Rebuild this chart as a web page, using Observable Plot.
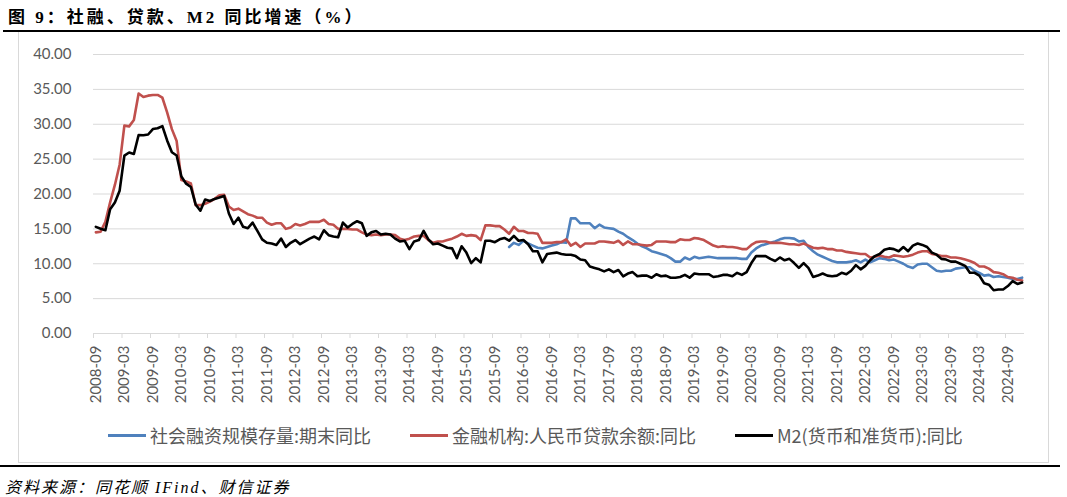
<!DOCTYPE html>
<html>
<head>
<meta charset="utf-8">
<script src="https://cdn.jsdelivr.net/npm/d3@7"></script>
<script src="https://cdn.jsdelivr.net/npm/@observablehq/plot@0.6"></script>
<style>
  html, body { margin: 0; padding: 0; background: #fff; }
  body { width: 1067px; height: 497px; position: relative; overflow: hidden; }
  .abs { position: absolute; }
  #title { left: 8px; top: 3px; font-family: "Liberation Serif", "Noto Sans CJK SC", serif; font-weight: bold; font-size: 17px; letter-spacing: 3px; color: #000; white-space: nowrap; }
  #rule1 { left: 3px; top: 30px; width: 1057px; height: 2px; background: #000; }
  #box { left: 18px; top: 32px; width: 1029px; height: 430px; border: 1px solid #d9d9d9; border-top: none; }
  #chart { left: 0; top: 0; }
  .leg { top: 424px; height: 22px; display: flex; align-items: center; font-family: "Noto Sans CJK SC", sans-serif; font-size: 18px; color: #595959; white-space: nowrap; }
  .sw { display: inline-block; width: 38px; height: 3px; margin-right: 4px; }
  #rule2 { left: 0; top: 465px; width: 1060px; height: 2px; background: #000; }
  #source { left: 5px; top: 474px; font-family: "Liberation Serif", "Noto Sans CJK SC", serif; font-style: italic; font-size: 16px; letter-spacing: 2px; color: #000; white-space: nowrap; }
</style>
</head>
<body>
<div id="title" class="abs">图 9：社融、贷款、M2 同比增速（%）</div>
<div id="rule1" class="abs"></div>
<div id="box" class="abs"></div>
<div id="chart" class="abs"></div>
<div id="legend"></div>
<div id="rule2" class="abs"></div>
<div id="source" class="abs">资料来源：同花顺 IFind、财信证券</div>
<script>
// ---------- data ----------
const firstMonth = "2008-09";
const monthCount = 196; // 2008-09 .. 2024-12
const tsfFirstMonth = "2015-12";

const seriesNames = ["社会融资规模存量:期末同比", "金融机构:人民币贷款余额:同比", "M2(货币和准货币):同比"];
const seriesColors = ["#4F81BD", "#C0504D", "#000000"];

// M2 同比 (%), 2008-09 .. 2024-12
const m2 = [
  15.29, 15.02, 14.80, 17.82,
  18.79, 20.48, 25.51, 25.95, 25.74, 28.46, 28.42, 28.53, 29.31, 29.42, 29.74, 27.68,
  25.98, 25.52, 22.50, 21.48, 21.00, 18.50, 17.60, 19.20, 19.00, 19.30, 19.50, 19.72,
  17.20, 15.70, 16.60, 15.30, 15.10, 15.90, 14.70, 13.50, 13.00, 12.90, 12.70, 13.60,
  12.40, 13.00, 13.40, 12.80, 13.20, 13.60, 13.90, 13.50, 14.80, 14.10, 13.90, 13.80,
  15.90, 15.20, 15.70, 16.10, 15.80, 14.00, 14.50, 14.70, 14.20, 14.30, 14.20, 13.60,
  13.20, 13.30, 12.10, 13.20, 13.40, 14.70, 13.50, 12.80, 12.90, 12.60, 12.30, 12.20,
  10.80, 12.50, 11.60, 10.10, 10.80, 10.20, 13.30, 13.30, 13.10, 13.50, 13.70, 13.30,
  14.00, 13.30, 13.40, 12.80, 11.80, 11.80, 10.20, 11.40, 11.50, 11.60, 11.40, 11.30,
  11.30, 11.10, 10.60, 10.50, 9.60, 9.40, 9.20, 8.90, 9.20, 8.80, 9.10, 8.20,
  8.60, 8.80, 8.20, 8.30, 8.30, 8.00, 8.50, 8.20, 8.30, 8.00, 8.00, 8.10,
  8.40, 8.00, 8.60, 8.50, 8.50, 8.50, 8.10, 8.20, 8.40, 8.40, 8.20, 8.70,
  8.40, 8.80, 10.10, 11.10, 11.10, 11.10, 10.70, 10.40, 10.90, 10.50, 10.70, 10.10,
  9.40, 10.10, 9.40, 8.10, 8.30, 8.60, 8.30, 8.20, 8.30, 8.70, 8.50, 9.00,
  9.80, 9.20, 9.70, 10.50, 11.10, 11.40, 12.00, 12.20, 12.10, 11.80, 12.40, 11.80,
  12.60, 12.90, 12.70, 12.40, 11.60, 11.30, 10.70, 10.60, 10.30, 10.30, 10.00, 9.70,
  8.70, 8.70, 8.30, 7.20, 7.00, 6.20, 6.30, 6.30, 6.80, 7.50, 7.10, 7.30
];

// 金融机构:人民币贷款余额:同比 (%), 2008-09 .. 2024-12
const loans = [
  14.5, 14.6, 16.0, 18.8,
  21.3, 24.2, 29.8, 29.7, 30.6, 34.4, 33.9, 34.1, 34.2, 34.2, 33.8, 31.7,
  29.3, 27.6, 22.0, 21.8, 21.5, 18.4, 18.4, 18.6, 18.9, 19.3, 19.8, 19.9,
  18.2, 17.7, 17.9, 17.5, 17.1, 16.9, 16.6, 16.6, 15.9, 15.6, 15.8, 15.8,
  15.0, 15.2, 15.7, 15.5, 15.7, 16.0, 16.0, 16.0, 16.3, 15.7, 15.6, 15.0,
  15.0, 15.0, 14.9, 14.9, 14.5, 14.2, 14.1, 14.2, 14.1, 14.2, 14.2, 14.1,
  13.6, 13.4, 13.6, 13.9, 14.0, 14.0, 13.4, 13.0, 13.2, 13.2, 13.4, 13.6,
  13.9, 14.3, 14.0, 14.1, 14.0, 13.4, 15.5, 15.5, 15.4, 15.4, 14.9, 14.3,
  15.3, 14.7, 14.7, 14.4, 14.4, 14.3, 13.0, 13.0, 13.0, 13.1, 13.1, 13.5,
  12.6, 13.0, 12.4, 12.9, 12.9, 12.9, 13.2, 13.2, 13.1, 13.0, 13.3, 12.7,
  13.2, 12.8, 12.8, 12.7, 12.6, 12.7, 13.2, 13.2, 13.2, 13.1, 13.1, 13.5,
  13.4, 13.4, 13.7, 13.6, 13.4, 13.0, 12.6, 12.4, 12.5, 12.4, 12.4, 12.3,
  12.1, 12.1, 12.7, 13.1, 13.2, 13.2, 13.0, 13.0, 13.0, 12.9, 12.8, 12.8,
  12.7, 12.9, 12.6, 12.3, 12.2, 12.3, 12.1, 12.1, 11.9, 11.9, 11.7, 11.6,
  11.5, 11.4, 11.4, 10.9, 11.0, 11.2, 11.0, 10.9, 11.2, 11.1, 11.0, 11.1,
  11.3, 11.6, 11.8, 11.8, 11.4, 11.3, 11.1, 11.1, 10.9, 10.9, 10.8, 10.6,
  10.4, 10.1, 9.6, 9.6, 9.3, 8.8, 8.7, 8.5, 8.1, 8.0, 7.7, 7.6
];

// 社会融资规模存量:期末同比 (%), 2015-12 .. 2024-12
const tsf = [
  12.4,
  13.0, 12.7, 13.3, 12.9, 12.6, 12.3, 12.2, 12.4, 12.6, 12.8, 13.1, 13.0,
  16.5, 16.5, 15.8, 15.8, 15.8, 15.1, 15.6, 15.2, 15.1, 15.0, 14.6, 14.3,
  13.8, 13.4, 12.9, 12.5, 12.2, 11.8, 11.6, 11.4, 11.2, 10.8, 10.3, 10.3,
  10.9, 10.6, 11.0, 10.8, 10.9, 11.0, 10.9, 10.8, 10.8, 10.8, 10.8, 10.8,
  10.7, 10.7, 11.6, 12.2, 12.6, 12.8, 13.0, 13.2, 13.5, 13.7, 13.7, 13.6,
  13.2, 13.3, 12.4, 11.8, 11.3, 11.0, 10.7, 10.4, 10.2, 10.2, 10.2, 10.3,
  10.5, 10.2, 10.6, 10.2, 10.5, 10.8, 10.7, 10.5, 10.6, 10.3, 10.0, 9.6,
  9.4, 9.9, 10.0, 10.0, 9.5, 9.0, 8.9, 9.0, 9.0, 9.3, 9.4, 9.5,
  9.5, 9.0, 8.7, 8.3, 8.4, 8.1, 8.2, 8.1, 8.0, 7.8, 7.8, 8.0
];

const yTicks = [0, 5, 10, 15, 20, 25, 30, 35, 40];
const xTickLabels = [
  "2008-09","2009-03","2009-09","2010-03","2010-09","2011-03","2011-09","2012-03","2012-09",
  "2013-03","2013-09","2014-03","2014-09","2015-03","2015-09","2016-03","2016-09","2017-03",
  "2017-09","2018-03","2018-09","2019-03","2019-09","2020-03","2020-09","2021-03","2021-09",
  "2022-03","2022-09","2023-03","2023-09","2024-03","2024-09"
];

// ---------- build ----------
const parseM = d3.timeParse("%Y-%m");
const fmtM = d3.timeFormat("%Y-%m");
const start = parseM(firstMonth);
const months = d3.range(monthCount).map(i => fmtM(d3.timeMonth.offset(start, i)));
const idx = m => months.indexOf(m);
const tsfOffset = idx(tsfFirstMonth);

const rows = [];
tsf.forEach((v, k) => rows.push({i: tsfOffset + k, v, s: seriesNames[0]}));
loans.forEach((v, i) => rows.push({i, v, s: seriesNames[1]}));
m2.forEach((v, i) => rows.push({i, v, s: seriesNames[2]}));

const labelPos = xTickLabels.map(idx);
const boundaryPos = labelPos.map(p => p - 0.5);

const chart = Plot.plot({
  width: 1067,
  height: 420,
  marginLeft: 93,
  marginRight: 43,
  marginTop: 54,
  marginBottom: 87,
  x: {domain: [-0.5, monthCount - 0.5]},
  y: {domain: [0, 40]},
  color: {domain: seriesNames, range: seriesColors},
  style: {fontFamily: "Lato, sans-serif", fontSize: "15px", color: "#595959", background: "transparent", overflow: "visible"},
  marks: [
    Plot.ruleY(yTicks, {stroke: "#d9d9d9", strokeWidth: 1}),
    Plot.axisY({ticks: yTicks, tickSize: 0, tickPadding: 22, tickFormat: d => d.toFixed(2), label: null}),
    Plot.axisX({ticks: boundaryPos, tickSize: 5, tickFormat: () => "", stroke: "#d9d9d9", label: null}),
    Plot.axisX({ticks: labelPos, tickSize: 0, tickPadding: 12, tickRotate: -90, tickFormat: i => months[i], label: null}),
    Plot.line(rows, {x: "i", y: "v", z: "s", stroke: "s", strokeWidth: 2.6, strokeLinejoin: "round", strokeLinecap: "round"})
  ]
});
document.getElementById("chart").appendChild(chart);

// legend
const legendX = [108, 410, 735];
const legend = document.getElementById("legend");
seriesNames.forEach((name, k) => {
  const d = document.createElement("div");
  d.className = "abs leg";
  d.style.left = legendX[k] + "px";
  const sw = document.createElement("span");
  sw.className = "sw";
  sw.style.background = seriesColors[k];
  d.appendChild(sw);
  d.appendChild(document.createTextNode(name));
  legend.appendChild(d);
});
</script>
</body>
</html>
